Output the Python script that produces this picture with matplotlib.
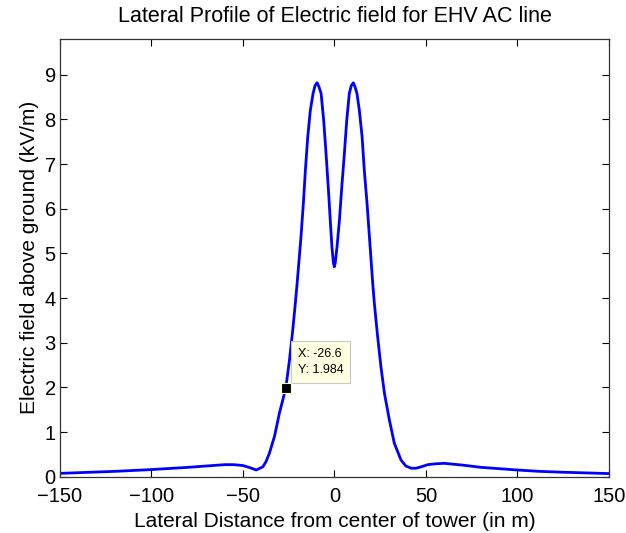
import matplotlib
matplotlib.use("Agg")
import matplotlib.pyplot as plt

plt.rcParams['font.family'] = ['Liberation Sans', 'DejaVu Sans']

# ── Data ──────────────────────────────────────────────────────────────────────
dist_m = [-150, -140, -130, -120, -110, -100, -90, -80, -70, -60, -55, -50, -46,
          -42.8, -39.2, -37.5, -35.6, -32.8, -30.1, -26.6, -24.6, -22.8, -21.4,
          -20.4, -18.3, -17.0, -15.9, -14.6, -13.2, -11.7, -10.6, -9.5, -8.4,
          -7.3, -5.9, -4.6, -3.4, -2.3, -1.4, -0.6, -0.1, 0.4, 1.4, 2.7, 4.0,
          5.4, 6.7, 8.1, 9.2, 10.3, 11.3, 12.3, 13.6, 15.1, 16.3, 17.8, 19.1,
          20.9, 21.8, 23.6, 25.4, 27.3, 30.0, 32.7, 36.4, 39.0, 41.9, 44.5,
          47.3, 51.0, 55.5, 60, 70, 80, 90, 100, 112, 125, 138, 150]
field_kv = [0.075, 0.09, 0.105, 0.12, 0.14, 0.16, 0.185, 0.21, 0.24, 0.27, 0.27, 0.25, 0.2,
            0.15, 0.22, 0.33, 0.52, 0.90, 1.42, 1.984, 2.61, 3.28, 3.88,
            4.33, 5.37, 6.12, 6.86, 7.61, 8.20, 8.58, 8.76, 8.82, 8.72,
            8.58, 7.98, 7.23, 6.49, 5.74, 5.15, 4.80, 4.70, 4.78, 5.15, 5.74, 6.49,
            7.23, 7.98, 8.58, 8.76, 8.82, 8.72, 8.58, 8.20, 7.61, 6.86, 6.12, 5.37,
            4.33, 3.88, 3.13, 2.46, 1.87, 1.27, 0.75, 0.37, 0.24, 0.19, 0.19,
            0.22, 0.27, 0.29, 0.30, 0.26, 0.21, 0.18, 0.15, 0.12, 0.10, 0.085, 0.07]

tip_x, tip_y = -26.6, 1.984
x_ticks = [-150, -100, -50, 0, 50, 100, 150]
y_ticks = [0, 1, 2, 3, 4, 5, 6, 7, 8, 9]

# ── Figure ────────────────────────────────────────────────────────────────────
fig = plt.figure(figsize=(6.26, 5.33), dpi=100)
ax = fig.add_axes([0.0958, 0.1056, 0.8770, 0.8212])

ax.plot(dist_m, field_kv, color='#0000ff', lw=2.0)

# data tip
ax.plot([tip_x], [tip_y], marker='s', ms=6.5, color='black',
        mec='#ffffc8', mew=0.8, ls='none', zorder=5)
ax.annotate(f"X: {tip_x}\nY: {tip_y}", xy=(tip_x, tip_y), xytext=(8.5, 8.5),
            textcoords='offset points', fontsize=9, ha='left', va='bottom',
            linespacing=1.45,
            bbox=dict(boxstyle='square,pad=0.55', fc='#ffffe1', ec='#c8c8c8', lw=0.8))

ax.set_xlim(-150, 150)
ax.set_ylim(0, 9.8)
ax.set_xticks(x_ticks)
ax.set_yticks(y_ticks)
ax.tick_params(direction='in', length=5, width=0.8, top=True, right=True,
               labelsize=14.5)
ax.tick_params(axis='x', pad=7.5)
ax.tick_params(axis='y', pad=3)
for lbl in ax.get_yticklabels():
    lbl.set_va('center_baseline')
for sp in ax.spines.values():
    sp.set_color('#333333')
    sp.set_linewidth(0.9)

ax.set_title("Lateral Profile of Electric field for EHV AC line", fontsize=15.5, pad=12)
ax.set_xlabel("Lateral Distance from center of tower (in m)", fontsize=15, labelpad=4)
ax.set_ylabel("Electric field above ground (kV/m)", fontsize=15, labelpad=4)

fig.savefig("out.png", dpi=100)
